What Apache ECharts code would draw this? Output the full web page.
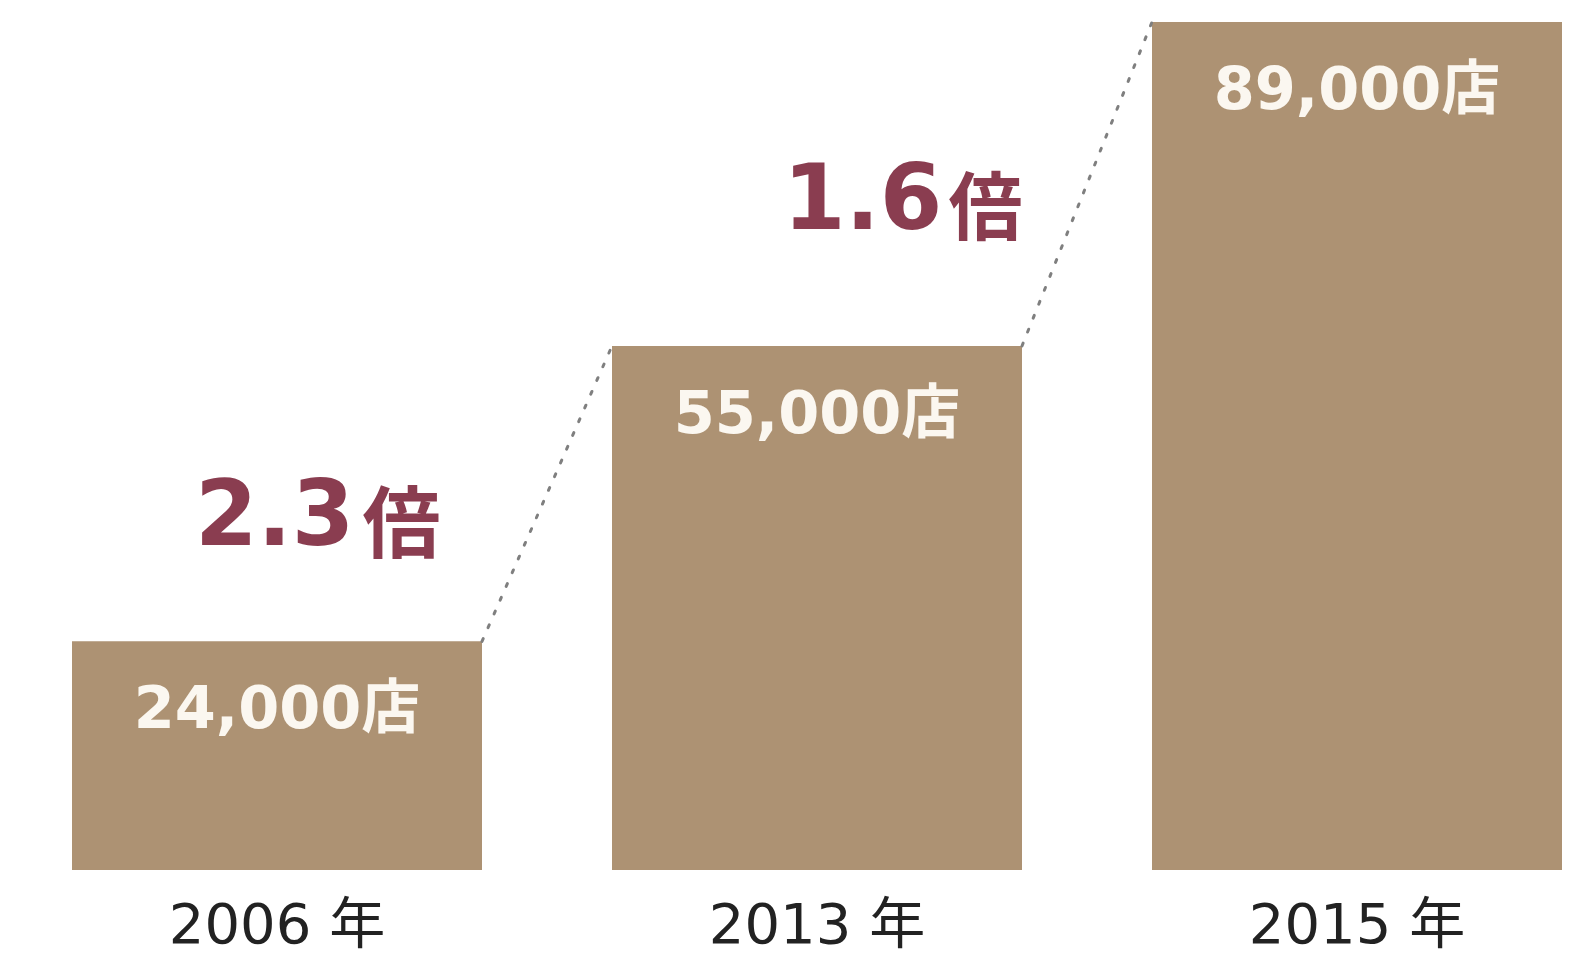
<!DOCTYPE html>
<html>
<head>
<meta charset="utf-8">
<script src="https://cdn.jsdelivr.net/npm/echarts@6/dist/echarts.min.js"></script>
<style>
html,body{margin:0;padding:0;background:#ffffff;overflow:hidden;width:100%;height:100%;}
#c{width:100vw;height:100vh;}
</style>
</head>
<body>
<div id="c"></div>
<script>
var categories = ['2006 年', '2013 年', '2015 年'];
var stores = [24000, 55000, 89000];
var valueLabels = ['24,000店', '55,000店', '89,000店'];
var ratioLabels = ['2.3', '1.6'];

var BAR_W = 410;
var chart = echarts.init(document.getElementById('c'));

var connectors = [];
for (var i = 0; i < stores.length - 1; i++) {
  connectors.push([i, stores[i], i + 1, stores[i + 1]]);
}

chart.setOption({
  animation: false,
  backgroundColor: '#ffffff',
  grid: { left: 277, top: 22, right: 222, bottom: 86 },
  xAxis: {
    type: 'category',
    data: categories,
    boundaryGap: false,
    axisLine: { show: false },
    axisTick: { show: false },
    axisLabel: {
      color: '#222222',
      fontFamily: 'DejaVu Sans, Noto Sans CJK JP',
      fontSize: 56,
      lineHeight: 56,
      margin: 30
    }
  },
  yAxis: {
    type: 'value',
    min: 0,
    max: 89000,
    show: false,
    splitLine: { show: false }
  },
  series: [
    {
      type: 'bar',
      data: stores,
      barWidth: BAR_W,
      clip: false,
      itemStyle: { color: '#ad9273' },
      label: {
        show: true,
        position: 'insideTop',
        distance: 42,
        formatter: function (p) { return valueLabels[p.dataIndex]; },
        color: '#fbf7f0',
        fontFamily: 'DejaVu Sans, Noto Sans CJK JP',
        fontWeight: 'bold',
        fontSize: 59
      }
    },
    {
      type: 'custom',
      data: connectors,
      clip: false,
      z: 5,
      renderItem: function (params, api) {
        var p1 = api.coord([api.value(0), api.value(1)]);
        var p2 = api.coord([api.value(2), api.value(3)]);
        return {
          type: 'line',
          shape: { x1: p1[0] + BAR_W / 2, y1: p1[1], x2: p2[0] - BAR_W / 2, y2: p2[1] },
          style: { stroke: '#7f7f7f', lineWidth: 3, lineDash: [3, 12], lineCap: 'round' }
        };
      }
    }
  ],
  graphic: [
    {
      type: 'text', left: 195, top: 477,
      style: {
        text: '{n|' + ratioLabels[0] + '}{u|倍}',
        rich: {
          n: { fontFamily: 'DejaVu Sans', fontWeight: 'bold', fontSize: 90, fill: '#8a3d50' },
          u: { fontFamily: 'Noto Sans CJK JP', fontWeight: 'bold', fontSize: 78, fill: '#8a3d50', padding: [0, 0, 0, 8] }
        }
      }
    },
    {
      type: 'text', left: 783, top: 161,
      style: {
        text: '{n|' + ratioLabels[1] + '}{u|倍}',
        rich: {
          n: { fontFamily: 'DejaVu Sans', fontWeight: 'bold', fontSize: 90, fill: '#8a3d50' },
          u: { fontFamily: 'Noto Sans CJK JP', fontWeight: 'bold', fontSize: 74, fill: '#8a3d50', padding: [0, 0, 0, 6] }
        }
      }
    }
  ]
});
window.addEventListener('resize', function () { chart.resize(); });
</script>
</body>
</html>
